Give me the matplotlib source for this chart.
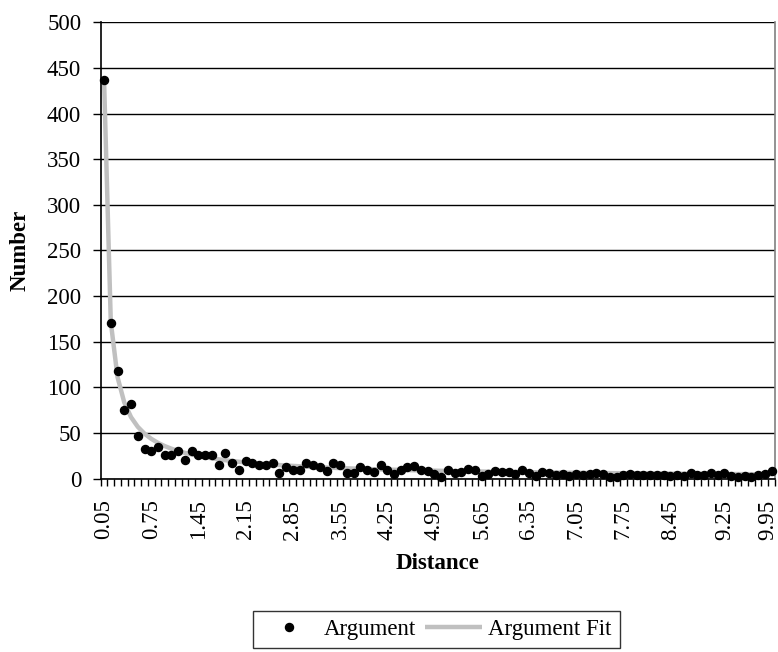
import numpy as np
import matplotlib.pyplot as plt
import matplotlib.transforms as mtransforms
from matplotlib.ticker import MultipleLocator, FixedLocator

plt.rcParams['font.family'] = ['Liberation Serif', 'DejaVu Serif']

# distance bins (centres) and counts per bin
distance = np.round(np.arange(0.05, 10.0, 0.1), 2)
counts = [
    437, 171, 118, 75, 82, 47, 32, 30, 35, 26,
    26, 30, 21, 30, 26, 26, 26, 15, 28, 17,
    9, 19, 17, 15, 15, 17, 6, 13, 10, 10,
    17, 15, 13, 8, 17, 15, 6, 6, 13, 10,
    7, 15, 10, 5, 10, 13, 14, 9, 8, 5,
    2, 10, 6, 7, 11, 9, 3, 5, 8, 7,
    7, 5, 9, 6, 3, 7, 6, 4, 5, 3,
    5, 4, 5, 6, 5, 2, 2, 4, 5, 4,
    4, 4, 4, 4, 3, 4, 3, 6, 4, 4,
    6, 4, 6, 3, 2, 3, 2, 4, 5, 8,
]
tick_labels = ['0.05', '0.75', '1.45', '2.15', '2.85', '3.55', '4.25',
               '4.95', '5.65', '6.35', '7.05', '7.75', '8.45', '9.25', '9.95']

counts = np.array(counts, dtype=float)

# power law fit  y = a * x^b, log-log least squares weighted by the counts
# (close to an ordinary least squares fit on the raw counts)
b, log_a = np.polyfit(np.log(distance), np.log(counts), 1, w=counts)
fit = np.exp(log_a) * distance ** b

fig = plt.figure(figsize=(7.78, 6.52), dpi=100)
ax = fig.add_axes([0.1294, 0.2658, 0.8667, 0.700])

ax.plot(distance, fit, color='#c0c0c0', lw=3.2, solid_capstyle='butt',
        label='Argument Fit', zorder=2)
ax.plot(distance, counts, 'o', color='black', ms=5.8, mec='black',
        label='Argument', zorder=3, clip_on=False)

ax.set_xlim(0, 10)
ax.set_ylim(0, 500)

ax.yaxis.set_major_locator(MultipleLocator(50))
ax.grid(axis='y', color='black', lw=1.0)
ax.set_axisbelow(True)

ax.xaxis.set_major_locator(FixedLocator([float(t) for t in tick_labels]))
ax.set_xticklabels(tick_labels, rotation=90)
ax.xaxis.set_minor_locator(FixedLocator(np.round(np.arange(0, 10.01, 0.1), 2)))
ax.tick_params(axis='x', which='major', length=0, pad=15, labelsize=16.5)
ax.tick_params(axis='x', which='minor', length=5, width=1, color='black',
               direction='out')
ax.tick_params(axis='y', length=6, width=1, pad=8, labelsize=16.5,
               direction='out')

# keep the last label inside the figure edge
last = ax.get_xticklabels()[-1]
last.set_transform(last.get_transform() +
                   mtransforms.ScaledTranslation(-3 / 72, 0, fig.dpi_scale_trans))

for side in ('left', 'bottom'):
    ax.spines[side].set_color('black')
    ax.spines[side].set_linewidth(1.2)
ax.spines['top'].set_visible(False)
ax.spines['right'].set_color('#808080')
ax.spines['right'].set_linewidth(1.2)

ax.set_xlabel('Distance', fontsize=16.5, fontweight='bold')
ax.xaxis.set_label_coords(0.5, -0.163)
ax.xaxis.label.set_va('top')
ax.set_ylabel('Number', fontsize=16.5, fontweight='bold')
ax.yaxis.set_label_coords(-0.104, 0.5)

handles, labels = ax.get_legend_handles_labels()
leg = fig.legend(handles[::-1], labels[::-1], loc='upper left',
                 bbox_to_anchor=(252.7 / 778, 1 - 610.7 / 652),
                 ncol=2, fontsize=16.5, frameon=True, fancybox=False,
                 edgecolor='black', borderpad=0.35, handlelength=2.5,
                 handletextpad=0.25, columnspacing=0.4, borderaxespad=0)
leg.get_frame().set_linewidth(1.0)

fig.savefig('out.png', dpi=100)
